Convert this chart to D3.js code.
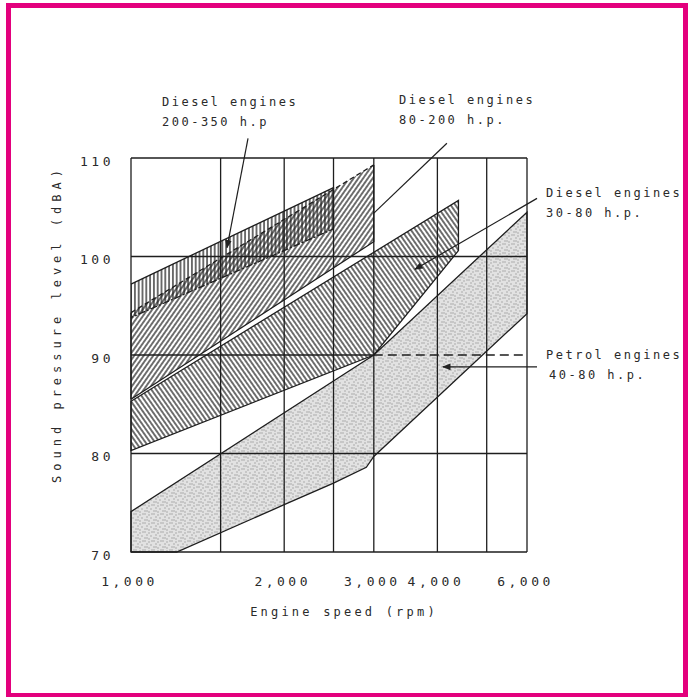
<!DOCTYPE html>
<html lang="en">
<head>
<meta charset="UTF-8">
<title>Engine noise vs speed</title>
<script src="https://cdn.jsdelivr.net/npm/d3@7/dist/d3.min.js"></script>
<style>
    body { margin: 0; background: #fff; }
    text { font-family: "DejaVu Sans Mono", monospace; fill: #2a2a2a; }
</style>
</head>
<body>
<svg id="chart" width="690" height="697"></svg>
<script>
// axis values
const rpmTicks = [1000, 2000, 3000, 4000, 6000];
const rpmGrid = [1000, 1500, 2000, 2500, 3000, 4000, 5000, 6000];
const dbTicks = [70, 80, 90, 100, 110];

// bands as [rpm, dBA] outlines
const diesel200to350 = [[1000, 97.2], [2500, 107], [2500, 102.8], [1000, 93.8]];
const diesel80to200 = [[1000, 94.3], [3000, 109.3], [3000, 101.5], [1000, 85.5]];
const diesel30to80 = [[1000, 85.3], [4400, 105.7], [4400, 100.6], [3000, 90], [1000, 80.3]];
const petrol40to80 = [[1000, 74.1], [3000, 90], [6000, 104.5], [6000, 94.2], [3000, 79.7],
                      [2900, 78.6], [2500, 77], [2000, 74.8], [1230, 70], [1000, 70]];

const bandLabels = [
    ["Diesel engines", "200-350 h.p"],
    ["Diesel engines", "80-200 h.p."],
    ["Diesel engines", "30-80 h.p."],
    ["Petrol engines", "40-80 h.p."]
];

const svg = d3.select("#chart");

// pink frame round the figure
svg.append("rect")
    .attr("x", 8.5).attr("y", 5.5)
    .attr("width", 677).attr("height", 690)
    .attr("fill", "none")
    .attr("stroke", "#e3007d")
    .attr("stroke-width", 5);

const x = d3.scaleLog().domain([1000, 6000]).range([131, 527]);
const y = d3.scaleLinear().domain([70, 110]).range([552, 158]);

const defs = svg.append("defs");

function hatch(id, gap, angle) {
    const p = defs.append("pattern")
        .attr("id", id)
        .attr("patternUnits", "userSpaceOnUse")
        .attr("width", gap).attr("height", 10)
        .attr("patternTransform", `rotate(${angle})`);
    p.append("line")
        .attr("x1", gap / 2).attr("x2", gap / 2)
        .attr("y1", 0).attr("y2", 10)
        .attr("stroke", "#222").attr("stroke-width", 1.3);
}
hatch("hVert", 3.8, 0);
hatch("hUp", 3.9, 35);
hatch("hDown", 3.9, -35);

// stipple for the petrol band
const st = defs.append("pattern")
    .attr("id", "stipple")
    .attr("patternUnits", "userSpaceOnUse")
    .attr("width", 9).attr("height", 9);
st.append("rect").attr("width", 9).attr("height", 9).attr("fill", "#e2e2e2");
[[1, 1], [5, 2], [3, 4], [7, 5], [1, 7], [5, 8], [8, 1], [3, 7]].forEach(d => {
    st.append("circle").attr("cx", d[0]).attr("cy", d[1]).attr("r", 0.7).attr("fill", "#999");
});

defs.append("clipPath").attr("id", "plotClip")
    .append("rect")
    .attr("x", x(1000)).attr("y", y(110))
    .attr("width", x(6000) - x(1000)).attr("height", y(70) - y(110));

defs.append("marker")
    .attr("id", "arrow")
    .attr("viewBox", "0 0 10 10")
    .attr("refX", 9).attr("refY", 5)
    .attr("markerWidth", 7).attr("markerHeight", 7)
    .attr("orient", "auto")
    .append("path")
    .attr("d", "M0,1 L10,5 L0,9 Z")
    .attr("fill", "#222");

const line = d3.line().x(d => x(d[0])).y(d => y(d[1]));
const area = pts => line(pts) + "Z";

const plot = svg.append("g").attr("clip-path", "url(#plotClip)");

plot.append("path").attr("d", area(petrol40to80)).attr("fill", "url(#stipple)");
plot.append("path").attr("d", area(diesel30to80)).attr("fill", "url(#hDown)");
plot.append("path").attr("d", area(diesel80to200)).attr("fill", "url(#hUp)");
plot.append("path").attr("d", area(diesel200to350)).attr("fill", "url(#hVert)");

// grid
const grid = svg.append("g").attr("stroke", "#1e1e1e").attr("stroke-width", 1.3);
grid.selectAll(".vg").data(rpmGrid).enter().append("line")
    .attr("x1", d => x(d)).attr("x2", d => x(d))
    .attr("y1", y(70)).attr("y2", y(110));
grid.selectAll(".hg").data(dbTicks.filter(d => d !== 90)).enter().append("line")
    .attr("x1", x(1000)).attr("x2", x(6000))
    .attr("y1", d => y(d)).attr("y2", d => y(d));
grid.append("line")
    .attr("x1", x(1000)).attr("x2", x(3000))
    .attr("y1", y(90)).attr("y2", y(90));
grid.append("line")
    .attr("x1", x(3000)).attr("x2", x(6000))
    .attr("y1", y(90)).attr("y2", y(90))
    .attr("stroke-dasharray", "9,5");

// band outlines
const outl = svg.append("g").attr("fill", "none").attr("stroke", "#1e1e1e").attr("stroke-width", 1.3);
outl.append("path").attr("d", area(petrol40to80));
outl.append("path").attr("d", area(diesel30to80));
outl.append("path").attr("d", line(diesel80to200.slice(1)));
outl.append("path").attr("d", line([diesel80to200[0], diesel80to200[1]]))
    .attr("stroke-dasharray", "5,3");
outl.append("path").attr("d", line([diesel80to200[3], diesel80to200[0]]));
outl.append("path").attr("d", line(diesel200to350.slice(0, 2)));
outl.append("path").attr("d", line(diesel200to350.slice(1)))
    .attr("stroke-dasharray", "7,2,2,2");

// axes
svg.append("g")
    .attr("transform", `translate(0,${y(70) + 22})`)
    .call(d3.axisBottom(x).tickValues(rpmTicks).tickSize(0).tickFormat(d3.format(",")))
    .call(g => g.select(".domain").remove())
    .selectAll("text")
    .attr("font-size", 13)
    .attr("letter-spacing", 3.5)
    .attr("dx", -2)
    .attr("fill", "#2a2a2a");

svg.append("g")
    .attr("transform", `translate(${x(1000) - 14},0)`)
    .call(d3.axisLeft(y).tickValues(dbTicks).tickSize(0))
    .call(g => g.select(".domain").remove())
    .selectAll("text")
    .attr("font-size", 13)
    .attr("letter-spacing", 3.5)
    .attr("dy", "0.55em")
    .attr("fill", "#2a2a2a");

svg.append("text")
    .attr("x", 344).attr("y", 616)
    .attr("text-anchor", "middle")
    .attr("font-size", 12)
    .attr("letter-spacing", 3.2)
    .text("Engine speed (rpm)");

svg.append("text")
    .attr("transform", "translate(61,324) rotate(-90)")
    .attr("text-anchor", "middle")
    .attr("font-size", 12)
    .attr("letter-spacing", 5)
    .text("Sound pressure level (dBA)");

// labels and pointers
const labelPos = [[162, 106], [399, 104], [546, 197], [546, 359]];
bandLabels.forEach((ls, i) => {
    const t = svg.append("text")
        .attr("x", labelPos[i][0]).attr("y", labelPos[i][1])
        .attr("font-size", 12)
        .attr("letter-spacing", 2.5);
    ls.forEach((s, j) => {
        t.append("tspan")
            .attr("x", labelPos[i][0] + (j === 1 && i === 3 ? 3 : 0))
            .attr("dy", j === 0 ? 0 : 20)
            .text(s);
    });
});

const pointers = [
    [[1698, 112.0], [1544, 100.9]],
    [[4176, 111.5], [3001, 104.4]],
    [[6278, 105.9], [3614, 98.7]],
    [[6278, 88.8], [4102, 88.8]]
];
svg.append("g").selectAll("path").data(pointers).enter().append("path")
    .attr("d", d => line(d))
    .attr("fill", "none")
    .attr("stroke", "#1e1e1e")
    .attr("stroke-width", 1.2)
    .attr("marker-end", (d, i) => i === 1 ? null : "url(#arrow)");
</script>
</body>
</html>
